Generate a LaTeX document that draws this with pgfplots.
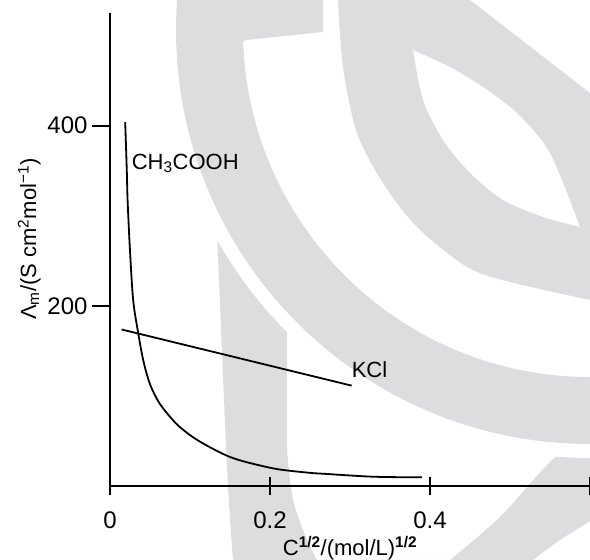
\documentclass[border=0pt]{standalone}
\usepackage{fontspec}
\setmainfont{Liberation Sans}
\usepackage{pgfplots}
\pgfplotsset{compat=1.18}
\definecolor{wm}{RGB}{221,220,222}
\begin{document}
\fontsize{22}{26}\selectfont
\begin{tikzpicture}
% background watermark (image pixel coordinates)
\begin{scope}[shift={(-110pt,486pt)}, x=1pt, y=-1pt]
  \clip (0,0) rectangle (590,560);
  % arc band A
  \fill[wm, even odd rule] (590,30) circle (414pt) (590,30) circle (347pt);
  \fill[wm] (238,0) -- (323,0) -- (323,32) -- (246.7,40) -- (238,42) -- cycle;
  % U-shaped band B + D (outside the strip circle)
  \begin{scope}
    \clip (216.7,225) -- (287,225) -- (287,450)
      -- plot[smooth] coordinates {(287,450) (293,500) (307,540) (317,560)}
      -- (450,560)
      -- plot[smooth] coordinates {(450,560) (500,517) (550,462) (600,420)}
      -- (600,515)
      -- plot[smooth] coordinates {(600,515) (560,540) (533,560)}
      -- (533,600) -- (233,600) -- (233,560)
      -- plot[smooth] coordinates {(233,560) (227,467) (216.7,225)} -- cycle;
    \fill[wm, even odd rule] (0,0) rectangle (590,560) (590,30) circle (428pt);
  \end{scope}
  % ring C with lens
  \fill[wm, even odd rule]
    plot[smooth] coordinates {(338,0) (343,67) (357,133) (383,183) (417,227) (467,267) (510,282) (590,300)}
    -- (590,93) -- (470,0) -- cycle
    plot[smooth] coordinates {(413,50) (450,67) (483,87) (517,113) (550,153) (580,227)}
    -- plot[smooth] coordinates {(580,227) (543,217) (503,200) (470,173) (443,140) (423,100) (413,50)}
    -- cycle;
\end{scope}
\begin{axis}[
  scale only axis,
  width=480pt, height=473pt,
  xmin=0, xmax=0.6, ymin=0, ymax=525,
  axis x line*=bottom, axis y line*=left,
  axis line style={line width=2pt,-},
  every tick/.style={black,line width=2pt},
  tick align=outside,
  major tick length=18pt,
  xtick={0,0.2,0.4,0.6},
  xticklabels={0,0.2,0.4,{}},
  ytick={200,400},
  x tick style={yshift=9pt},
  /pgf/number format/assume math mode=true,
  tick label style={font=\fontsize{24}{28}\selectfont},
  yticklabel style={xshift=3pt},
  label style={font=\fontsize{22}{26}\selectfont},
  xlabel={C\textsuperscript{\textbf{1/2}}/(mol/L)\textsuperscript{\textbf{1/2}}},
  ylabel={Λ\textsubscript{m}/(S cm\textsuperscript{2}mol\textsuperscript{−1})},
  xlabel style={at={(rel axis cs:0.5,-0.146)}, anchor=base},
  ylabel style={at={(rel axis cs:-0.154,0.522)}, anchor=base, rotate=0},
  clip=false,
]
\addplot[black, line width=1.8pt, smooth] coordinates {
(0.019,404) (0.021,350) (0.022,317) (0.025,261) (0.029,206) (0.0354,169)
(0.0417,139) (0.050,113) (0.0625,91) (0.083,69) (0.104,54) (0.125,43)
(0.146,33.7) (0.1667,27.4) (0.208,18.9) (0.25,14.6) (0.2667,13.6) (0.329,10.3) (0.39,9.6)
};
\addplot[black, line width=1.8pt] coordinates {(0.0146,173.7) (0.302,111.4)};
\node[anchor=west, inner sep=0pt] at (axis cs:0.027,358) {CH\textsubscript{3}COOH};
\node[anchor=west, inner sep=0pt] at (axis cs:0.302,129) {KCl};
\end{axis}
\pgfresetboundingbox
\path (-110pt,-74pt) rectangle (480pt,486pt);
\end{tikzpicture}
\end{document}
